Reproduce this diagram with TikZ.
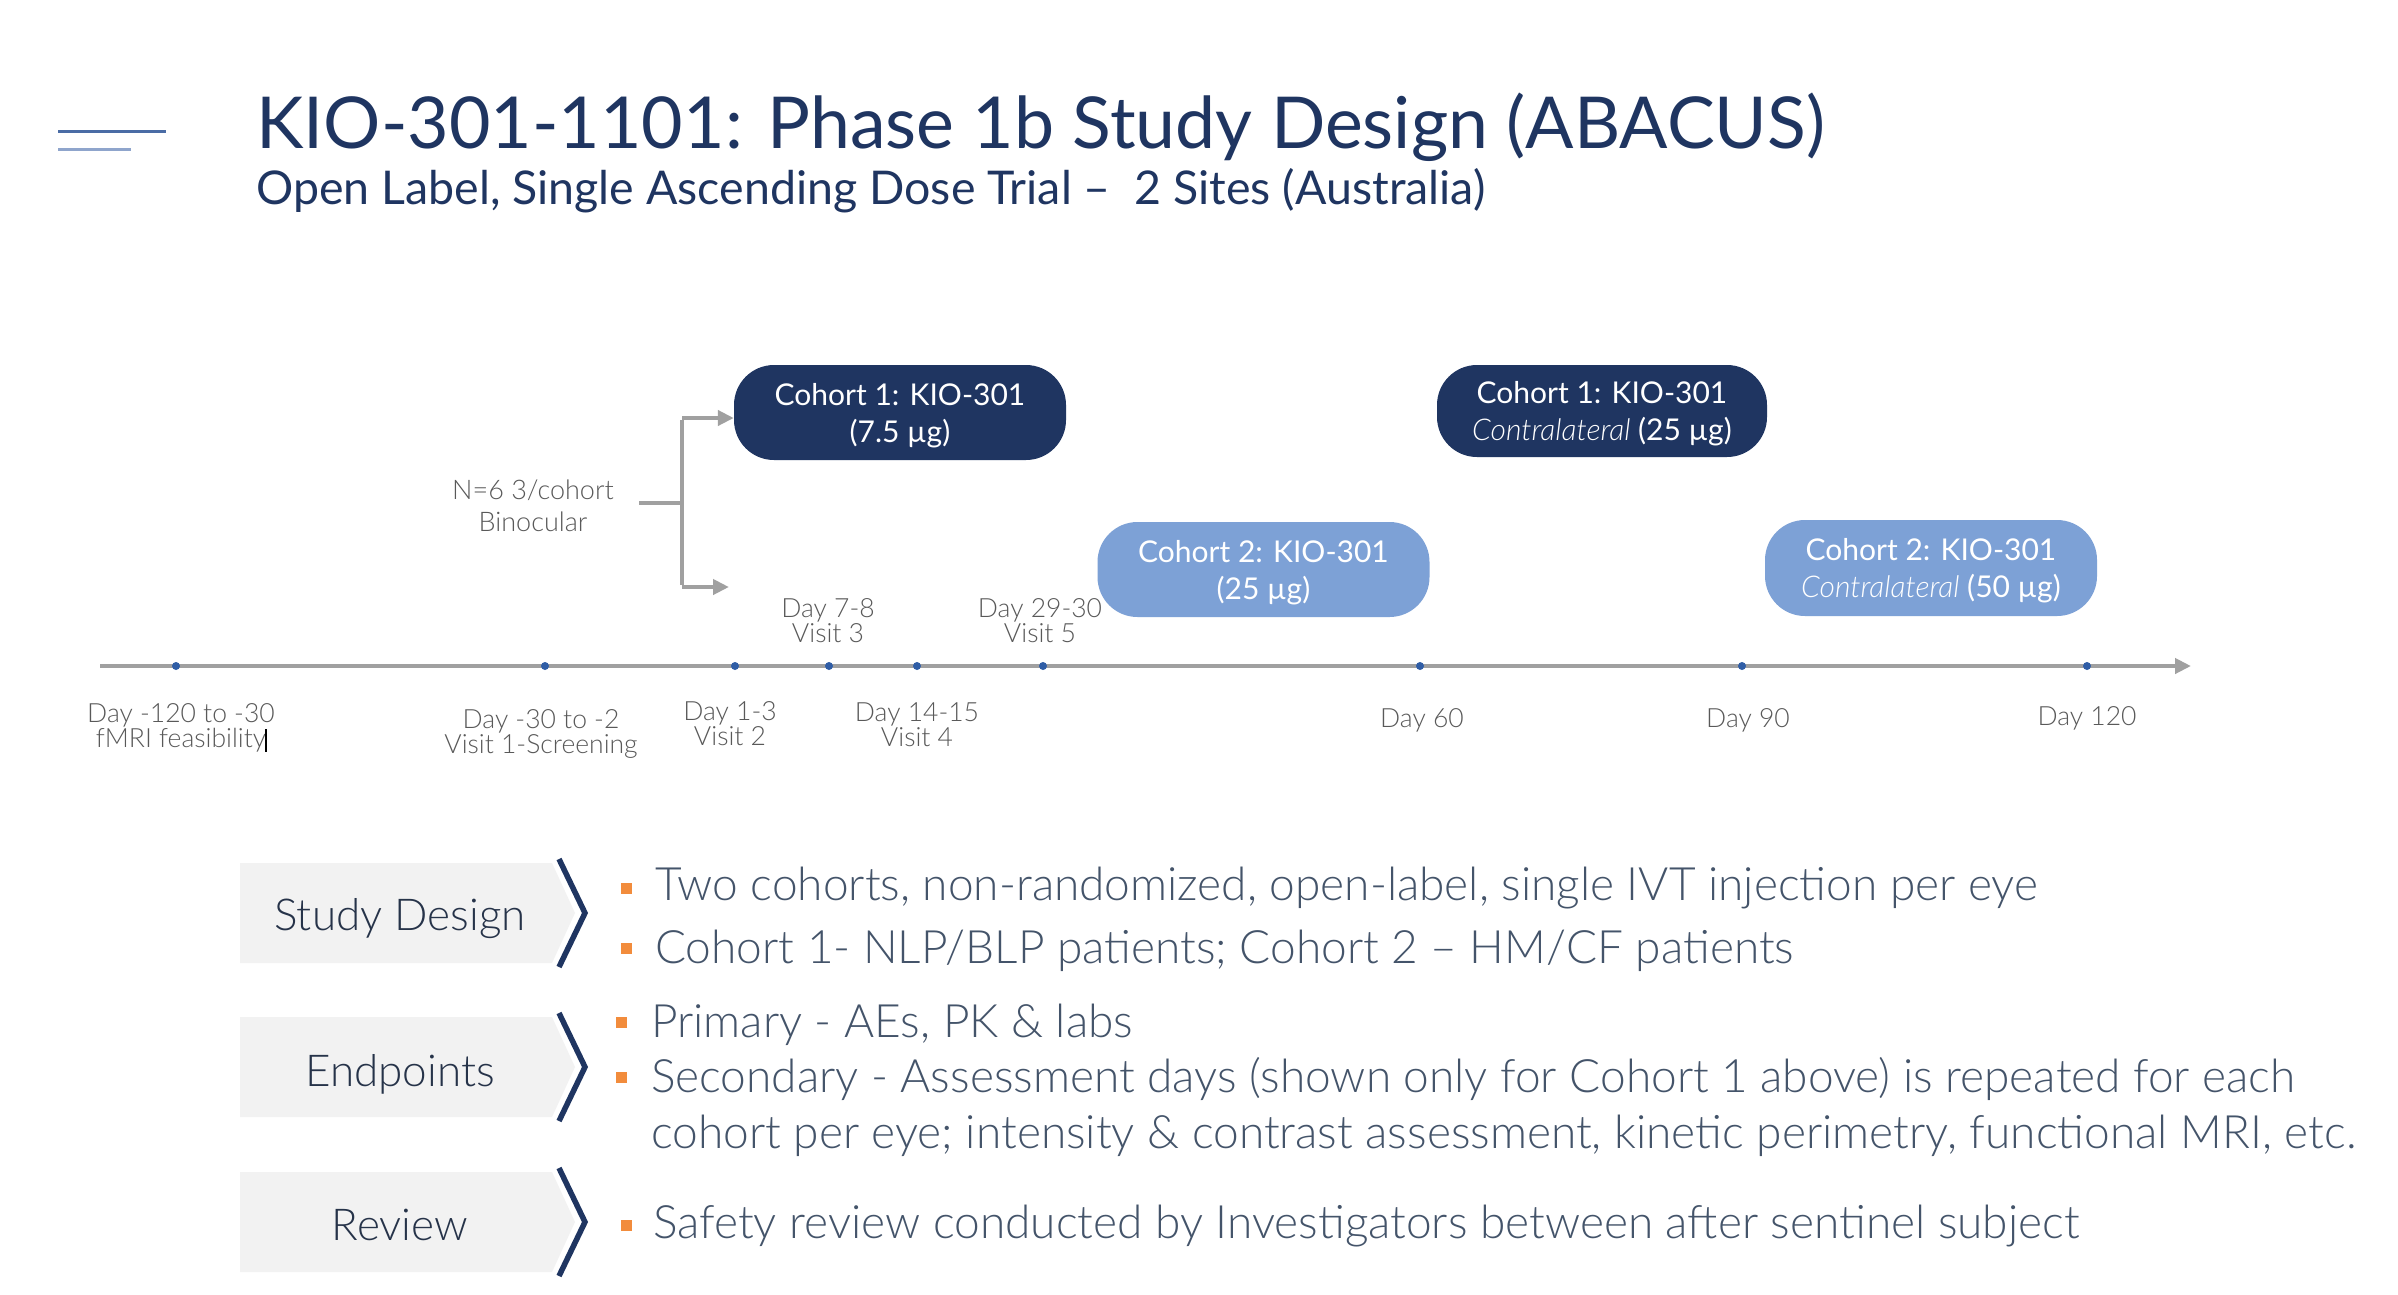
\documentclass[tikz,border=0pt]{standalone}
\usepackage{fontspec}
\setmainfont{Lato}
\newfontfamily\lt{Lato Light}
\usetikzlibrary{arrows.meta}
\definecolor{navy}{HTML}{1F3561}
\definecolor{lblue}{HTML}{7DA1D6}
\definecolor{axisgray}{HTML}{A0A0A0}
\definecolor{dotblue}{HTML}{2F5DA6}
\definecolor{lblgray}{HTML}{595959}
\definecolor{txtgray}{HTML}{44546A}
\definecolor{bulor}{HTML}{F28C3C}
\definecolor{boxgray}{HTML}{F2F2F2}
\definecolor{decoA}{HTML}{4A6CA5}
\definecolor{decoB}{HTML}{8FA5CC}
\definecolor{labnavy}{HTML}{263349}
\begin{document}
\begin{tikzpicture}[x=1pt,y=-1pt,
  daylbl/.style={font=\lt\fontsize{26.5}{25}\selectfont, text=lblgray, align=center, inner sep=0pt, anchor=base},
  cohortbox/.style={rounded corners=40pt, minimum width=332pt, minimum height=95pt, inner sep=0pt},
  cohorttext/.style={text=white, font=\fontsize{30}{37}\selectfont, align=center, inner sep=0pt},
  cohortA/.style={cohortbox, fill=navy},
  cohortB/.style={cohortbox, fill=lblue},
  dotst/.style={circle, fill=dotblue, inner sep=0pt, minimum size=8pt},
  axisline/.style={draw=axisgray, line width=4.5pt, -{Triangle[length=16pt,width=15pt]}},
  bracketline/.style={draw=axisgray, line width=4.5pt},
  bracketarrow/.style={draw=axisgray, line width=4.5pt, -{Triangle[length=16pt,width=15pt]}},
  graybox/.style={fill=boxgray, draw=none},
  chevron/.style={draw=navy, line width=5.5pt, miter limit=10},
  boxlbl/.style={font=\lt\fontsize{44}{44}\selectfont, text=labnavy, anchor=base, inner sep=0pt},
  bullet/.style={fill=bulor, draw=none, minimum size=11pt, inner sep=0pt},
  bultxt/.style={font=\lt\fontsize{46}{56}\selectfont, text=txtgray, anchor=base west, inner sep=0pt, align=left}
]
\useasboundingbox (0,0) rectangle (2398,1294);
\fill[white] (0,0) rectangle (2398,1294);

% decoration lines
\coordinate (la0) at (58,131); \coordinate (la1) at (166,131);
\coordinate (lb0) at (58,149); \coordinate (lb1) at (131,149);
\draw[decoA, line width=3pt] (la0) -- (la1);
\draw[decoB, line width=3pt] (lb0) -- (lb1);

% title
\node[anchor=base west, inner sep=0pt, text=navy, font=\fontsize{71.6}{72}\selectfont] (title) at (256,148)
  {KIO-301-1101: Phase 1b Study Design (ABACUS)};
\node[anchor=base west, inner sep=0pt, text=navy, font=\fontsize{46.5}{46}\selectfont] (subtitle) at (256,204)
  {Open Label, Single Ascending Dose Trial –\ \ 2 Sites (Australia)};

% timeline
\coordinate (t0) at (100,666);
\coordinate (t1) at (2191,666);
\draw[axisline] (t0) -- (t1);
\foreach \i/\x in {1/176,2/545,3/735,4/829,5/917,6/1043,7/1420,8/1742,9/2087}
  \node[dotst] (d\i) at (\x,666) {};

% day labels (anchor = baseline of last line)
\node[daylbl] (l1) at (181,747) {Day -120 to -30\\fMRI feasibility};
\node[daylbl] (l2) at (541,753) {Day -30 to -2\\Visit 1-Screening};
\node[daylbl] (l3) at (730,745) {Day 1-3\\Visit 2};
\node[daylbl] (l4) at (917,746) {Day 14-15\\Visit 4};
\node[daylbl] (l5) at (828,642) {Day 7-8\\Visit 3};
\node[daylbl] (l6) at (1040,642) {Day 29-30\\Visit 5};
\node[daylbl] (l7) at (1422,727) {Day 60};
\node[daylbl] (l8) at (1748,727) {Day 90};
\node[daylbl] (l9) at (2087,725) {Day 120};
\coordinate (cur0) at (266,729); \coordinate (cur1) at (266,752);
\draw[black, line width=1.2pt] (cur0) -- (cur1);

% cohort boxes
\node[cohortA] (c1) at (900,412.5) {};
\node[cohorttext] (c1t) at ([yshift=-3pt]c1.center) {Cohort 1: KIO-301\\(7.5 µg)};
\node[cohortB] (c2) at (1263.5,569.5) {};
\node[cohorttext] (c2t) at ([yshift=-3pt]c2.center) {Cohort 2: KIO-301\\(25 µg)};
\node[cohortA, minimum width=330pt, minimum height=92pt] (c3) at (1602,411) {};
\node[cohorttext] (c3t) at ([yshift=-3pt]c3.center) {Cohort 1: KIO-301\\{\lt\itshape Contralateral} (25 µg)};
\node[cohortB, minimum height=96pt] (c4) at (1931,568) {};
\node[cohorttext] (c4t) at ([yshift=-3pt]c4.center) {Cohort 2: KIO-301\\{\lt\itshape Contralateral} (50 µg)};

% bracket
\node[daylbl, font=\lt\fontsize{27}{32}\selectfont] (nlab) at (533,531) {N=6 3/cohort\\Binocular};
\coordinate (bs) at (639,503);
\coordinate (bm) at (682,503);
\coordinate (btop) at (682,418);
\coordinate (bbot) at (682,587);
\coordinate (bend) at (729,587);
\draw[bracketline] (bs) -- (bm);
\draw[bracketline] ([yshift=-2.25pt]btop) -- ([yshift=2.25pt]bbot);
\draw[bracketarrow] (btop) -- (btop -| c1.west);
\draw[bracketarrow] (bbot) -- (bend);

% bottom section boxes
\foreach \n/\yt/\lab/\yb in {sd/863/Study Design/930, ep/1017/Endpoints/1086, rv/1172/Review/1240}{
  \fill[graybox] (240,\yt) -- (552,\yt) -- (575,\yt+50) -- (552,\yt+100) -- (240,\yt+100) -- cycle;
  \draw[chevron] (559,\yt-4) -- (585,\yt+50) -- (559,\yt+104);
  \node[boxlbl] (\n) at (400,\yb) {\lab};
}

% bullets
\node[bullet] (b1) at (626.5,888) {};
\node[bultxt] (t1x) at (655,900) {Two cohorts, non-randomized, open-label, single IVT injection per eye};
\node[bullet] (b2) at (626.5,948) {};
\node[bultxt] (t2x) at (655,963) {Cohort 1- NLP/BLP patients; Cohort 2 – HM/CF patients};
\node[bullet] (b3) at (621.5,1022.5) {};
\node[bultxt] (t3x) at (651,1037) {Primary - AEs, PK \& labs};
\node[bullet] (b4) at (621.5,1077.5) {};
\node[bultxt] (t4x) at (651,1148) {Secondary - Assessment days (shown only for Cohort 1 above) is repeated for each\\cohort per eye; intensity \& contrast assessment, kinetic perimetry, functional MRI, etc.};
\node[bullet] (b5) at (626.5,1225) {};
\node[bultxt] (t5x) at (653,1238) {Safety review conducted by Investigators between after sentinel subject};
\end{tikzpicture}
\end{document}
